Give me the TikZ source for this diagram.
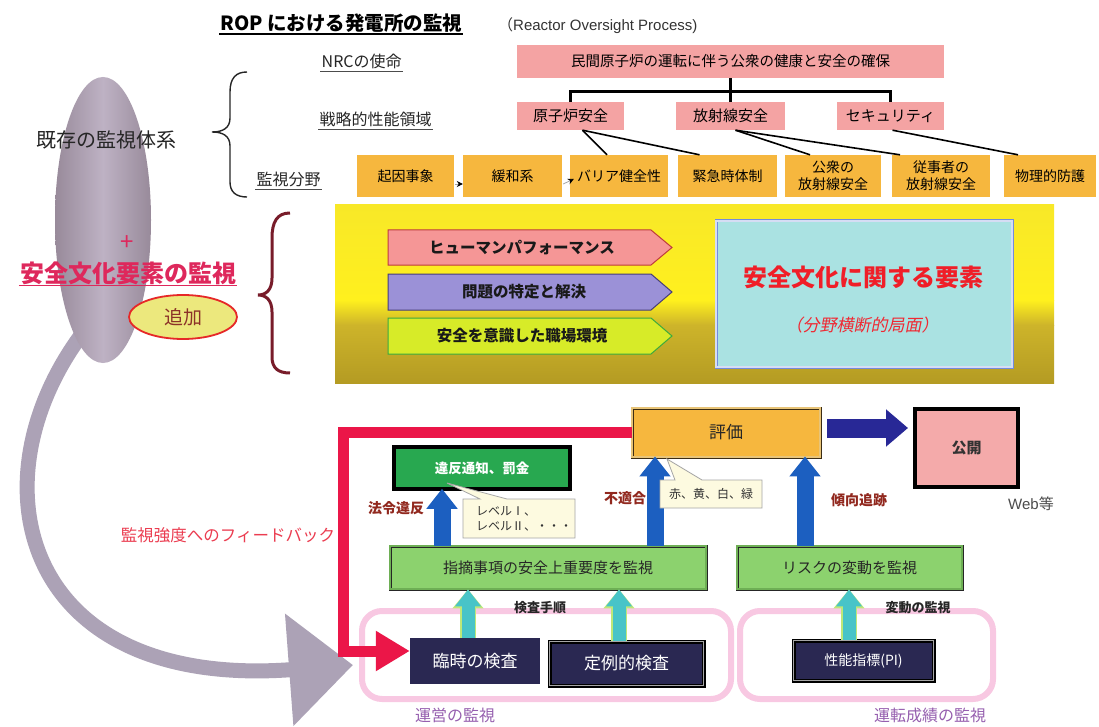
\documentclass[tikz,border=0pt]{standalone}
\usepackage{fontspec}
\setmainfont{Noto Sans CJK JP}
\newfontfamily\lat{Liberation Sans}
\newfontfamily\jpsl{Noto Sans CJK JP}[FakeSlant=0.2]
\usetikzlibrary{calc,arrows.meta,shapes.geometric}
\newcommand\fsz[2]{\fontsize{#1}{#2}\selectfont}
\definecolor{cOrange}{RGB}{246,183,62}
\definecolor{cPink}{RGB}{244,163,163}
\definecolor{cTail}{RGB}{172,162,182}
\definecolor{ellD}{RGB}{152,138,154}
\definecolor{ellL}{RGB}{190,178,196}
\definecolor{cBrace}{RGB}{120,28,42}
\definecolor{cCrim}{RGB}{222,40,92}
\definecolor{cRed}{RGB}{235,22,72}
\definecolor{cTeal}{RGB}{170,226,226}
\definecolor{cTealB}{RGB}{115,140,220}
\definecolor{cBlue}{RGB}{28,95,192}
\definecolor{cInd}{RGB}{40,40,150}
\definecolor{cNavy}{RGB}{42,40,82}
\definecolor{cGreenL}{RGB}{140,210,110}
\definecolor{cGreenD}{RGB}{40,168,80}
\definecolor{cTArr}{RGB}{72,196,200}
\definecolor{cTArrB}{RGB}{190,232,120}
\definecolor{cLbl}{RGB}{145,40,30}
\definecolor{cPurp}{RGB}{150,95,175}
\definecolor{cPinkR}{RGB}{248,200,226}
\definecolor{cCall}{RGB}{253,250,224}
\definecolor{cYel}{RGB}{255,240,30}
\definecolor{cYel2}{RGB}{248,232,40}
\definecolor{cOlive}{RGB}{205,180,42}
\definecolor{cOlive2}{RGB}{180,155,35}
\definecolor{cFB}{RGB}{235,60,80}
\tikzset{
  lbl/.style={inner sep=1.5pt, anchor=base west, font=\fsz{16}{19}, text=black!85},
  pbox/.style={fill=cPink, inner sep=0pt, font=\fsz{14.5}{17}},
  obox/.style={fill=cOrange, inner sep=0pt, minimum height=42pt, align=center, font=\fsz{14}{17}},
  tree/.style={line width=2.6pt},
  tline/.style={line width=1.6pt},
  sarr/.style={draw=gray!70, line width=0.8pt, -{Stealth[black,length=6pt,width=6pt]}},
  penta/.style={line width=1pt},
  ptext/.style={font=\bfseries\fsz{15.5}{18}, text=black!90},
  dbl/.style={line width=0.9pt, double distance=1.2pt},
  barr/.style={draw=cBlue, line width=17pt, -{Triangle[length=20pt,width=30pt]}},
  tarr/.style={draw=cTArr, line width=13pt, -{Triangle[length=17pt,width=25pt]},
    preaction={draw=cTArrB, line width=16pt, -{Triangle[length=19pt,width=30pt]}}},
  navy/.style={fill=cNavy, text=white, inner sep=0pt},
  rlbl/.style={font=\bfseries\fsz{14}{16}, text=cLbl},
  callout/.style={fill=cCall, draw=black!35, line width=0.8pt},
}
\begin{document}
\begin{tikzpicture}[x=1pt,y=-1pt, line join=miter]
\useasboundingbox (0,0) rectangle (1099,727);
\fill[white] (0,0) rectangle (1099,727);

% ---------- title ----------
\node[anchor=base west, inner sep=1pt, font=\bfseries\fsz{19.5}{22}] (title) at (219,31) {ROP における発電所の監視};
\draw[line width=1.3pt] (title.south west) -- (title.south east);
\node[anchor=base west, inner sep=1pt, font=\fsz{15}{18}, text=black!80] (subtitle) at (497,31) {（\lat Reactor Oversight Process)};

% ---------- gray tail & ellipse ----------
\draw[cTail, line width=15pt, -{Triangle[length=64pt,width=109pt]}] (85,330) .. controls (-30,480) and (20,690) .. (353,665);
\node[ellipse, minimum width=96pt, minimum height=286pt, inner sep=0pt, left color=ellD, right color=ellD, middle color=ellL] (ell) at (103,220) {};

\node[font=\fsz{20}{22}, text=black!85] (kizon) at (106,140) {既存の監視体系};
\node[font=\fsz{24}{24}, text=cCrim] (plus) at (127,243) {+};
\node[font=\bfseries\fsz{24}{26}, text=cCrim, inner sep=1pt] (anzen) at (128,273) {安全文化要素の監視};
\draw[cCrim, line width=1.5pt] (anzen.south west) -- (anzen.south east);
\node[ellipse, minimum width=108pt, minimum height=44pt, fill={rgb,255:red,236;green,232;blue,125}, draw={rgb,255:red,230;green,40;blue,40}, line width=1.8pt, font=\fsz{19}{20}, text={rgb,255:red,140;green,50;blue,40}] (tsuika) at (183,317) {追加};

% ---------- braces ----------
\draw[line width=1.4pt, black!85] (247,72) .. controls (236,72) and (230,78) .. (230,92) -- (230,118) .. controls (230,128) and (223,132) .. (212,132) .. controls (223,132) and (230,136) .. (230,146) -- (230,182) .. controls (230,192) and (236,197) .. (247,197);
\draw[line width=3pt, cBrace] (290,213) .. controls (277,213) and (272,222) .. (272,238) -- (272,278) .. controls (272,290) and (266,295) .. (258,295) .. controls (266,295) and (272,300) .. (272,312) -- (272,357) .. controls (272,368) and (278,373) .. (290,373);

% ---------- left labels ----------
\node[lbl] (nrc) at (320,68) {NRCの使命};
\draw[line width=0.8pt, black!70] (nrc.south west) -- (nrc.south east);
\node[lbl] (senryaku) at (318,126) {戦略的性能領域};
\draw[line width=0.8pt, black!70] (senryaku.south west) -- (senryaku.south east);
\node[lbl] (bunya) at (255,186) {監視分野};
\draw[line width=0.8pt, black!70] (bunya.south west) -- (bunya.south east);

% ---------- top hierarchy ----------
\node[pbox, minimum width=427pt, minimum height=33pt] (mission) at (730.5,61.5) {民間原子炉の運転に伴う公衆の健康と安全の確保};
\node[pbox, minimum width=107pt, minimum height=28pt, font=\fsz{15}{17}] (r1) at (570.5,116) {原子炉安全};
\node[pbox, minimum width=109pt, minimum height=28pt, font=\fsz{15}{17}] (r2) at (730.5,116) {放射線安全};
\node[pbox, minimum width=107pt, minimum height=28pt, font=\fsz{15}{17}] (r3) at (890.5,116) {セキュリティ};
\draw[tree] (mission.south) -- (r2.north);
\draw[tree] (r1.north) -- ++(0,-10) -| (r3.north);

\node[obox, minimum width=97pt] (a1) at (405.5,176) {起因事象};
\node[obox, minimum width=99pt] (a2) at (512.5,176) {緩和系};
\node[obox, minimum width=98pt] (a3) at (619,176) {バリア健全性};
\node[obox, minimum width=99pt] (a4) at (727.5,176) {緊急時体制};
\node[obox, minimum width=96pt] (a5) at (833,176) {公衆の\\放射線安全};
\node[obox, minimum width=98pt] (a6) at (941,176) {従事者の\\放射線安全};
\node[obox, minimum width=92pt] (a7) at (1050,176) {物理的防護};

\draw[tline] ($(r1.south)+(12,0)$) -- ($(a3.north)+(-12,0)$);
\draw[tline] ($(r1.south)+(12,0)$) -- ($(a4.north)+(-28,0)$);
\draw[tline] ($(r2.south)+(5,0)$) -- ($(a5.north)+(-23,0)$);
\draw[tline] ($(r2.south)+(5,0)$) -- ($(a6.north)+(-41,0)$);
\draw[tline] ($(r3.south)+(2,0)$) -- ($(a7.north)+(-32,0)$);
\draw[sarr] ($(a1.east)+(1,8)$) -- ($(a2.west)+(0,8)$);
\draw[sarr] ($(a2.east)+(1,8)$) -- ($(a3.west)+(4,3)$);

% ---------- yellow band ----------
\shade[top color=cYel2, bottom color=cYel] (335,205) rectangle (1054,300);
\shade[top color=cYel, bottom color=cOlive] (335,300) rectangle (1054,325);
\shade[top color=cOlive, bottom color=cOlive2] (335,325) rectangle (1054,383);

\path[penta, fill={rgb,255:red,245;green,150;blue,150}, draw={rgb,255:red,190;green,60;blue,60}] (388,230) -- (651,230) -- (672,247.5) -- (651,265) -- (388,265) -- cycle;
\node[ptext] (hp) at (522,247.5) {ヒューマンパフォーマンス};
\path[penta, fill={rgb,255:red,155;green,145;blue,215}, draw={rgb,255:red,70;green,60;blue,120}] (388,274) -- (651,274) -- (672,292) -- (651,310) -- (388,310) -- cycle;
\node[ptext] (mondai) at (524,292) {問題の特定と解決};
\path[penta, fill={rgb,255:red,215;green,235;blue,40}, draw={rgb,255:red,60;green,170;blue,60}] (388,318) -- (651,318) -- (672,336) -- (651,354) -- (388,354) -- cycle;
\node[ptext] (shokuba) at (522,336) {安全を意識した職場環境};

\node[fill=cTeal, draw=cTealB, dbl, double=cTealB!30, minimum width=296pt, minimum height=146pt, inner sep=0pt] (teal) at (864,294) {};
\node[font=\bfseries\fsz{24}{26}, text={rgb,255:red,240;green,30;blue,40}] (yoso) at (863,277) {安全文化に関する要素};
\node[font=\jpsl\fsz{17}{19}, text={rgb,255:red,240;green,40;blue,50}] (kyokumen) at (862,325) {（分野横断的局面）};

% ---------- bottom: pink groups ----------
\draw[cPinkR, line width=6pt, rounded corners=20pt] (362,611) rectangle (731,699);
\draw[cPinkR, line width=6pt, rounded corners=20pt] (740,611) rectangle (993,699);

% ---------- bottom boxes ----------
\node[fill=cOrange, draw={rgb,255:red,60;green,45;blue,20}, dbl, double={rgb,255:red,232;green,196;blue,120}, minimum width=188pt, minimum height=49pt, inner sep=0pt, font=\fsz{17}{19}, text=black!85] (hyoka) at (726,432.5) {評価};
\node[fill={rgb,255:red,244;green,170;blue,170}, draw=black, line width=4pt, minimum width=103pt, minimum height=78pt, inner sep=0pt, font=\bfseries\fsz{15}{17}, text=black!80] (kokai) at (966.5,448) {公開};
\node[font=\lat\fsz{15}{17}, text=black!70, inner sep=0pt] (web) at (1031,504) {Web\fontspec{Noto Sans CJK JP}等};
\node[fill=cGreenD, draw=black, line width=3.5pt, minimum width=176pt, minimum height=42pt, inner sep=0pt, font=\bfseries\fsz{13.5}{15}, text=white] (ihan) at (482,468) {違反通知、罰金};
\node[fill=cGreenL, draw=black!85, dbl, double={rgb,255:red,110;green,175;blue,85}, minimum width=316pt, minimum height=43pt, inner sep=0pt, font=\fsz{15}{17}, text=black!85] (shiteki) at (548,567.5) {指摘事項の安全上重要度を監視};
\node[fill=cGreenL, draw=black!85, dbl, double={rgb,255:red,110;green,175;blue,85}, minimum width=225pt, minimum height=43pt, inner sep=0pt, font=\fsz{15}{17}, text=black!85] (risk) at (849.5,567.5) {リスクの変動を監視};
\node[navy, minimum width=130pt, minimum height=46pt, font=\fsz{17}{19}] (rinji) at (475,661) {臨時の検査};
\node[navy, draw=black, line width=1.5pt, double=gray!70, double distance=1pt, minimum width=154pt, minimum height=44pt, font=\fsz{17}{19}] (teirei) at (626.5,663.5) {定例的検査};
\node[navy, draw=black, line width=1.5pt, double=gray!70, double distance=1pt, minimum width=140pt, minimum height=40pt, font=\fsz{14}{16}] (pi) at (863.5,660.5) {性能指標(PI)};

% ---------- arrows ----------
\draw[cRed, line width=11pt, -{Triangle[length=34pt,width=38pt]}] (hyoka.west) -| ($(rinji.west)+(-66,-10)$) -- ($(rinji.west)+(0,-10)$);
\draw[cInd, line width=19pt, -{Triangle[length=22pt,width=36pt]}] ($(hyoka.east)+(7,-4.5)$) -- ($(hyoka.east -| kokai.west)+(-5,-4.5)$);
\draw[barr] ($(shiteki.north)+(-106,0)$) -- ($(ihan.south)+(-40,-2)$);
\draw[barr] ($(shiteki.north)+(107,0)$) -- ($(hyoka.south)+(-71,-1)$);
\draw[barr] ($(risk.north)+(-44.5,0)$) -- ($(hyoka.south)+(79,-1)$);
\draw[tarr] ($(rinji.north)+(-7,0)$) -- ($(shiteki.south)+(-80,0)$);
\draw[tarr] ($(teirei.north)+(-7.5,0)$) -- ($(shiteki.south)+(71,0)$);
\draw[tarr] ($(pi.north)+(-14.5,0)$) -- ($(risk.south)+(-0.5,0)$);

% ---------- callouts ----------
\path[callout] (463,499) -- (480,499) -- (447,483) -- (507,499) -- (575,499) -- (575,538) -- (463,538) -- cycle;
\node[anchor=west, align=left, font=\fsz{12}{15}, text=black!80, inner sep=0pt] (lvl) at (476,518.5) {レベルⅠ、\\レベルⅡ、・・・};
\path[callout] (660,480) -- (675,480) -- (667,459) -- (702,480) -- (762,480) -- (762,508) -- (660,508) -- cycle;
\node[font=\fsz{12}{14}, text=black!80, inner sep=0pt] (colors) at (711,494) {赤、黄、白、緑};

% ---------- labels ----------
\node[rlbl] (horei) at (396,508) {法令違反};
\node[rlbl] (futekigo) at (625,498) {不適合};
\node[rlbl] (keiko) at (859,500) {傾向追跡};
\node[font=\bfseries\fsz{13}{15}, text=black!85] (tejun) at (540,608) {検査手順};
\node[font=\bfseries\fsz{13}{15}, text=black!85] (hendo) at (918,608) {変動の監視};
\node[font=\fsz{16}{18}, text=cPurp] (uneikanshi) at (455,715) {運営の監視};
\node[font=\fsz{16}{18}, text=cPurp] (unten) at (930,715) {運転成績の監視};
\node[font=\fsz{16.5}{18}, text=cFB] (fb) at (228,535) {監視強度へのフィードバック};
\end{tikzpicture}
\end{document}
